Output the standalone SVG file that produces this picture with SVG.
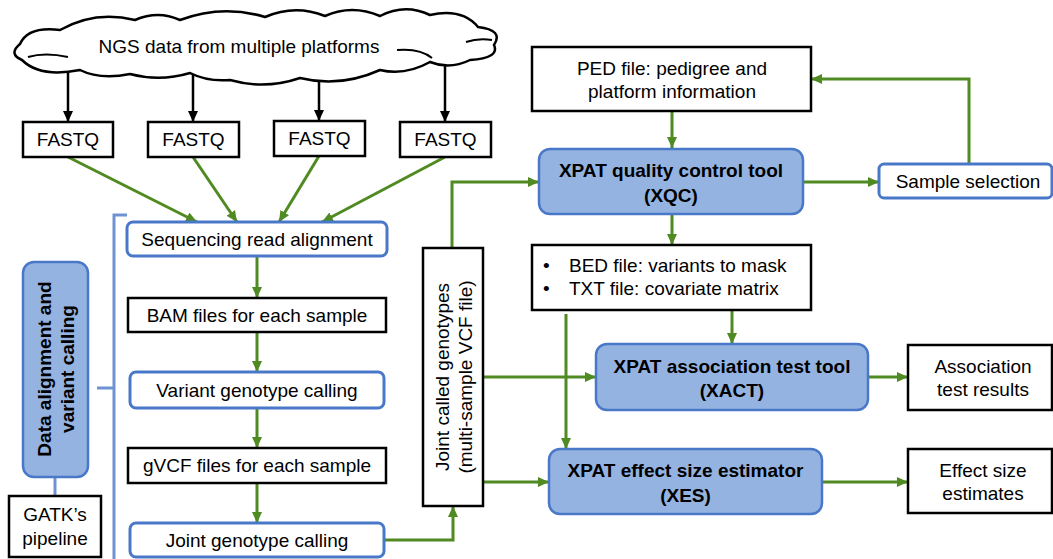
<svg xmlns="http://www.w3.org/2000/svg" width="1053" height="559" viewBox="0 0 1053 559">
<defs>
<style>
text{font-family:"Liberation Sans",Arial,sans-serif;font-size:19px;fill:#000;}
.c{text-anchor:middle;}
.b{font-weight:bold;}
.bx{fill:#fff;stroke:#000;stroke-width:2.5;}
.bl{fill:#fff;stroke:#4a78c8;stroke-width:3;}
.fl{fill:#95b3e0;stroke:#4a78c8;stroke-width:2.5;}
.g{fill:none;stroke:#4f8a22;stroke-width:3;}
.k{fill:none;stroke:#000;stroke-width:2.5;}
.br{fill:none;stroke:#6f93d2;stroke-width:3;}
</style>
<marker id="ag" markerUnits="userSpaceOnUse" markerWidth="11" markerHeight="10" refX="11" refY="5" orient="auto"><path d="M0,0 L11,5 L0,10 z" fill="#4f8a22"/></marker>
<marker id="ak" markerUnits="userSpaceOnUse" markerWidth="11" markerHeight="10" refX="11" refY="5" orient="auto"><path d="M0,0 L11,5 L0,10 z" fill="#000"/></marker>
</defs>
<rect width="1053" height="559" fill="#fff"/>

<g id="connectors">
<path class="k" marker-end="url(#ak)" d="M68,60 L68,122"/>
<path class="k" marker-end="url(#ak)" d="M193,60 L193,122"/>
<path class="k" marker-end="url(#ak)" d="M319,60 L319,121"/>
<path class="k" marker-end="url(#ak)" d="M445,55 L445,122"/>
<path class="g" marker-end="url(#ag)" d="M68,157 L197,222"/>
<path class="g" marker-end="url(#ag)" d="M193,157 L237,222"/>
<path class="g" marker-end="url(#ag)" d="M319,156 L279,222"/>
<path class="g" marker-end="url(#ag)" d="M445,157 L322,222"/>
<path class="g" marker-end="url(#ag)" d="M257,256 L257,298"/>
<path class="g" marker-end="url(#ag)" d="M257,332 L257,372"/>
<path class="g" marker-end="url(#ag)" d="M257,408 L257,448"/>
<path class="g" marker-end="url(#ag)" d="M257,483 L257,523"/>
<path class="g" marker-end="url(#ag)" d="M384,540 L453,540 L453,506"/>
<path class="g" marker-end="url(#ag)" d="M452,248 L452,182 L539,182"/>
<path class="g" marker-end="url(#ag)" d="M672,111 L672,148"/>
<path class="g" marker-end="url(#ag)" d="M803,182 L879,182"/>
<path class="g" marker-end="url(#ag)" d="M969,164 L969,79 L811,79"/>
<path class="g" marker-end="url(#ag)" d="M672,214 L672,245"/>
<path class="g" marker-end="url(#ag)" d="M732,310 L732,344"/>
<path class="g" marker-end="url(#ag)" d="M566,314 L566,449"/>
<path class="g" marker-end="url(#ag)" d="M483,377 L596,377"/>
<path class="g" marker-end="url(#ag)" d="M483,482 L549,482"/>
<path class="g" marker-end="url(#ag)" d="M868,377 L908,377"/>
<path class="g" marker-end="url(#ag)" d="M822,482 L908,482"/>
<path class="br" d="M127,215 L114,215 L114,559"/>
<path class="br" d="M97,388 L114,388"/>
<path class="br" d="M55,477 L55,496"/>
</g>

<g id="cloud">
<path fill="#fff" stroke="#000" stroke-width="2.5" d="M22,60 Q8,54 20,44 Q28,26 60,30 Q95,10 135,20 Q158,10 180,20 Q222,4 265,17 Q295,4 325,16 Q352,4 380,16 Q405,3 430,15 Q462,8 478,27 Q504,30 494,45 Q500,58 470,60 Q450,70 430,62 Q405,76 380,70 Q340,88 300,78 Q265,90 230,80 Q208,82 190,73 Q160,82 130,74 Q100,80 80,70 Q40,78 22,60 Z"/>
<path fill="none" stroke="#000" stroke-width="2" d="M28,57 Q45,52 68,57"/>
<path fill="none" stroke="#000" stroke-width="2" d="M397,50 Q420,48 432,58"/>
<path fill="none" stroke="#000" stroke-width="2" d="M466,42 Q478,38 492,40"/>
<text class="c" x="239" y="53">NGS data from multiple platforms</text>
</g>

<g id="fastq1"><rect class="bx" x="23" y="122" width="90" height="35"/><text class="c" x="68" y="146">FASTQ</text></g>
<g id="fastq2"><rect class="bx" x="148" y="122" width="91" height="35"/><text class="c" x="193.5" y="146">FASTQ</text></g>
<g id="fastq3"><rect class="bx" x="274" y="121" width="91" height="35"/><text class="c" x="319.5" y="145">FASTQ</text></g>
<g id="fastq4"><rect class="bx" x="400" y="122" width="91" height="35"/><text class="c" x="445.5" y="146">FASTQ</text></g>

<g id="seqalign"><rect class="bl" x="127" y="222" width="260" height="34" rx="6"/><text class="c" x="257" y="246">Sequencing read alignment</text></g>
<g id="bam"><rect class="bx" x="128" y="298" width="258" height="34"/><text class="c" x="257" y="322">BAM files for each sample</text></g>
<g id="varcall"><rect class="bl" x="130" y="372" width="254" height="36" rx="6"/><text class="c" x="257" y="397">Variant genotype calling</text></g>
<g id="gvcf"><rect class="bx" x="128" y="448" width="258" height="35"/><text class="c" x="257" y="472">gVCF files for each sample</text></g>
<g id="jointcall"><rect class="bl" x="130" y="523" width="254" height="34" rx="6"/><text class="c" x="257" y="547">Joint genotype calling</text></g>

<g id="dataalign"><rect class="fl" x="23" y="262" width="65" height="215" rx="11"/>
<text class="c b" transform="translate(0 369) rotate(-90)" x="0" y="50.5">Data alignment and</text>
<text class="c b" transform="translate(0 369) rotate(-90)" x="0" y="73.5">variant calling</text></g>
<g id="gatk"><rect class="bx" x="9" y="496" width="92" height="61"/><text class="c" x="55" y="521">GATK’s</text><text class="c" x="55" y="545">pipeline</text></g>

<g id="jointvcf"><rect class="bx" x="423" y="248" width="60" height="258"/>
<text class="c" transform="translate(0 377) rotate(-90)" x="0" y="449">Joint called genotypes</text>
<text class="c" transform="translate(0 377) rotate(-90)" x="0" y="472">(multi-sample VCF file)</text></g>

<g id="ped"><rect class="bx" x="532" y="47" width="279" height="64"/><text class="c" x="672" y="75">PED file: pedigree and</text><text class="c" x="672" y="98">platform information</text></g>
<g id="xqc"><rect class="fl" x="539" y="149" width="264" height="65" rx="11"/><text class="c b" x="671" y="177">XPAT quality control tool</text><text class="c b" x="671" y="202">(XQC)</text></g>
<g id="sample"><rect class="bl" x="879" y="164" width="173" height="34" rx="5"/><text class="c" x="968" y="188">Sample selection</text></g>
<g id="bed"><rect class="bx" x="532" y="245" width="279" height="65"/>
<text x="543" y="272">•</text><text x="569" y="272">BED file: variants to mask</text>
<text x="543" y="295">•</text><text x="569" y="295">TXT file: covariate matrix</text></g>
<g id="xact"><rect class="fl" x="596" y="344" width="272" height="66" rx="11"/><text class="c b" x="732" y="373">XPAT association test tool</text><text class="c b" x="732" y="397">(XACT)</text></g>
<g id="xes"><rect class="fl" x="549" y="449" width="273" height="65" rx="11"/><text class="c b" x="685.5" y="477">XPAT effect size estimator</text><text class="c b" x="685.5" y="502">(XES)</text></g>
<g id="assoc"><rect class="bx" x="908" y="345" width="144" height="65"/><text class="c" x="983" y="373">Association</text><text class="c" x="983" y="396">test results</text></g>
<g id="effect"><rect class="bx" x="908" y="449" width="144" height="64"/><text class="c" x="983" y="477">Effect size</text><text class="c" x="983" y="500">estimates</text></g>
</svg>
